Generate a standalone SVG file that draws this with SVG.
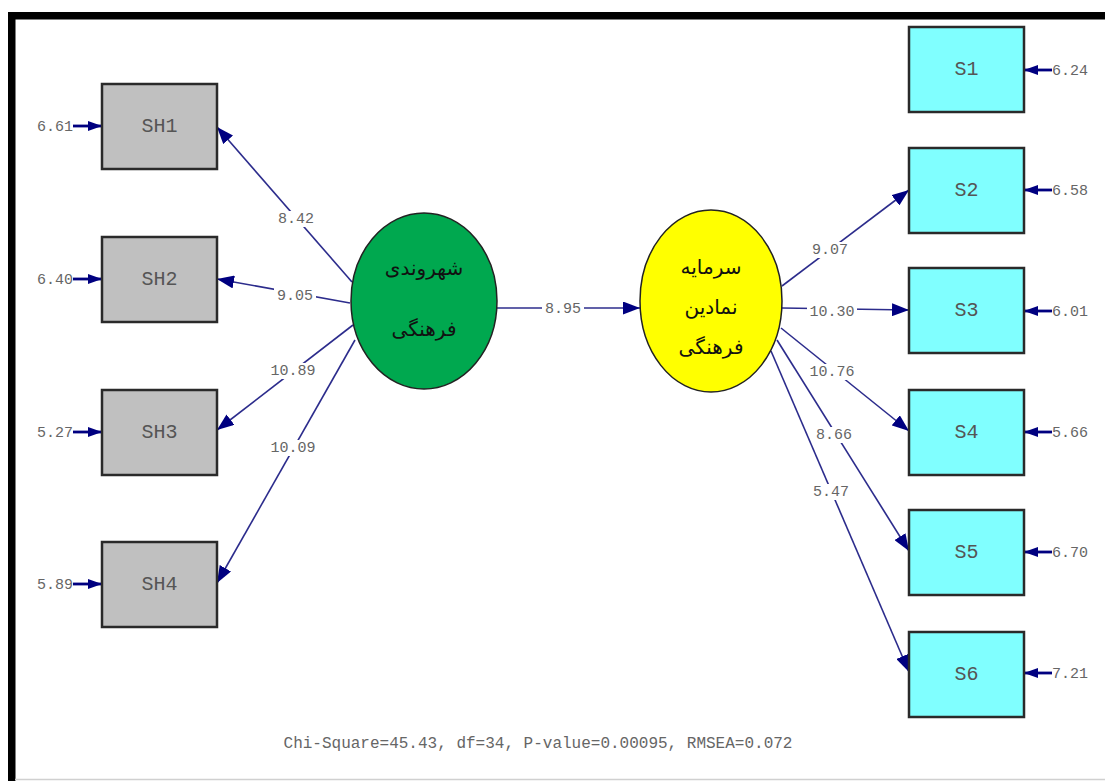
<svg xmlns="http://www.w3.org/2000/svg" width="1105" height="781" viewBox="0 0 1105 781">
<style>
.obs rect{stroke:#2a2a2a;stroke-width:2.5}
.sh rect{fill:#c0c0c0}
.s rect{fill:#80ffff}
.nt{font-family:"Liberation Mono",monospace;font-size:20px;fill:#555;text-anchor:middle;dominant-baseline:central}
.lb{font-family:"Liberation Mono",monospace;font-size:15px;fill:#666;dominant-baseline:central}
.bg{fill:#fff}
.fa{font-family:"DejaVu Sans",sans-serif;font-size:20px;fill:#111;text-anchor:middle;dominant-baseline:central}
.ln{stroke:#2c2c8c;stroke-width:1.6;fill:none;marker-end:url(#ah)}
.er{stroke:#000080;stroke-width:2.8;fill:none;marker-end:url(#ahs)}
</style>
<defs>
<marker id="ah" markerUnits="userSpaceOnUse" markerWidth="17" markerHeight="13" refX="17" refY="6.5" orient="auto"><path d="M0,0 L17,6.5 L0,13 z" fill="#000080"/></marker>
<marker id="ahs" markerUnits="userSpaceOnUse" markerWidth="14" markerHeight="10" refX="14" refY="5" orient="auto"><path d="M0,0 L14,5 L0,10 z" fill="#000080"/></marker>
</defs>
<rect width="1105" height="781" fill="#fff"/>
<rect x="8" y="12" width="1097" height="7.5" fill="#000"/>
<rect x="8" y="12" width="7.5" height="769" fill="#000"/>
<line x1="15" y1="779.5" x2="1105" y2="779.5" stroke="#d0d0d0" stroke-width="1.5"/>

<g id="connectors">
<line class="ln" x1="497" y1="308" x2="640" y2="308"/>
<line class="ln" x1="352" y1="282" x2="217" y2="127"/>
<line class="ln" x1="350" y1="303" x2="217" y2="279"/>
<line class="ln" x1="353" y1="325" x2="217" y2="430"/>
<line class="ln" x1="355" y1="340" x2="217" y2="583"/>
<line class="ln" x1="782" y1="286" x2="909" y2="190"/>
<line class="ln" x1="782" y1="308" x2="909" y2="310"/>
<line class="ln" x1="781" y1="328" x2="909" y2="431"/>
<line class="ln" x1="777" y1="340" x2="909" y2="551"/>
<line class="ln" x1="771" y1="351" x2="909" y2="672"/>
<line class="er" x1="73" y1="126" x2="102" y2="126"/>
<line class="er" x1="73" y1="279" x2="102" y2="279"/>
<line class="er" x1="73" y1="432" x2="102" y2="432"/>
<line class="er" x1="73" y1="584" x2="102" y2="584"/>
<line class="er" x1="1052" y1="70" x2="1024" y2="70"/>
<line class="er" x1="1052" y1="190" x2="1024" y2="190"/>
<line class="er" x1="1052" y1="311" x2="1024" y2="311"/>
<line class="er" x1="1052" y1="432" x2="1024" y2="432"/>
<line class="er" x1="1052" y1="552" x2="1024" y2="552"/>
<line class="er" x1="1052" y1="673" x2="1024" y2="673"/>
<g>
<rect class="bg" x="542" y="301" width="42" height="16"/>
<rect class="bg" x="275" y="211" width="42" height="16"/>
<rect class="bg" x="274" y="288" width="42" height="16"/>
<rect class="bg" x="268" y="363" width="50" height="16"/>
<rect class="bg" x="268" y="440" width="50" height="16"/>
<rect class="bg" x="809" y="242" width="42" height="16"/>
<rect class="bg" x="807" y="304" width="50" height="16"/>
<rect class="bg" x="807" y="364" width="50" height="16"/>
<rect class="bg" x="813" y="427" width="42" height="16"/>
<rect class="bg" x="810" y="484" width="42" height="16"/>
</g>
<g text-anchor="middle">
<text class="lb" x="563" y="309">8.95</text>
<text class="lb" x="296" y="219">8.42</text>
<text class="lb" x="295" y="296">9.05</text>
<text class="lb" x="293" y="371">10.89</text>
<text class="lb" x="293" y="448">10.09</text>
<text class="lb" x="830" y="250">9.07</text>
<text class="lb" x="832" y="312">10.30</text>
<text class="lb" x="832" y="372">10.76</text>
<text class="lb" x="834" y="435">8.66</text>
<text class="lb" x="831" y="492">5.47</text>
</g>
<g text-anchor="end">
<text class="lb" x="73" y="127">6.61</text>
<text class="lb" x="73" y="280">6.40</text>
<text class="lb" x="73" y="433">5.27</text>
<text class="lb" x="73" y="585">5.89</text>
</g>
<g text-anchor="start">
<text class="lb" x="1052" y="71">6.24</text>
<text class="lb" x="1052" y="191">6.58</text>
<text class="lb" x="1052" y="312">6.01</text>
<text class="lb" x="1052" y="433">5.66</text>
<text class="lb" x="1052" y="553">6.70</text>
<text class="lb" x="1052" y="674">7.21</text>
</g>
</g>

<g id="SH1" class="obs sh"><rect x="102" y="84" width="115" height="85"/><text class="nt" x="159.5" y="126.5">SH1</text></g>
<g id="SH2" class="obs sh"><rect x="102" y="237" width="115" height="85"/><text class="nt" x="159.5" y="279.5">SH2</text></g>
<g id="SH3" class="obs sh"><rect x="102" y="390" width="115" height="85"/><text class="nt" x="159.5" y="432.5">SH3</text></g>
<g id="SH4" class="obs sh"><rect x="102" y="542" width="115" height="85"/><text class="nt" x="159.5" y="584.5">SH4</text></g>

<g id="S1" class="obs s"><rect x="909" y="27" width="115" height="85"/><text class="nt" x="966.5" y="69.5">S1</text></g>
<g id="S2" class="obs s"><rect x="909" y="148" width="115" height="85"/><text class="nt" x="966.5" y="190.5">S2</text></g>
<g id="S3" class="obs s"><rect x="909" y="268" width="115" height="85"/><text class="nt" x="966.5" y="310.5">S3</text></g>
<g id="S4" class="obs s"><rect x="909" y="390" width="115" height="85"/><text class="nt" x="966.5" y="432.5">S4</text></g>
<g id="S5" class="obs s"><rect x="909" y="510" width="115" height="85"/><text class="nt" x="966.5" y="552.5">S5</text></g>
<g id="S6" class="obs s"><rect x="909" y="632" width="115" height="85"/><text class="nt" x="966.5" y="674.5">S6</text></g>

<g id="latent1">
<ellipse cx="424" cy="301" rx="73" ry="88" fill="#00a84f" stroke="#222" stroke-width="1.5"/>
<text class="fa" x="424" y="268">شهروندی</text>
<text class="fa" x="424" y="329">فرهنگی</text>
</g>
<g id="latent2">
<ellipse cx="711" cy="301" rx="71" ry="91" fill="#ffff00" stroke="#222" stroke-width="1.5"/>
<text class="fa" x="711" y="267">سرمایه</text>
<text class="fa" x="711" y="307">نمادین</text>
<text class="fa" x="711" y="347">فرهنگی</text>
</g>

<text x="538" y="744" font-family="Liberation Mono, monospace" font-size="16" fill="#666" text-anchor="middle" dominant-baseline="central">Chi-Square=45.43, df=34, P-value=0.00095, RMSEA=0.072</text>
</svg>
